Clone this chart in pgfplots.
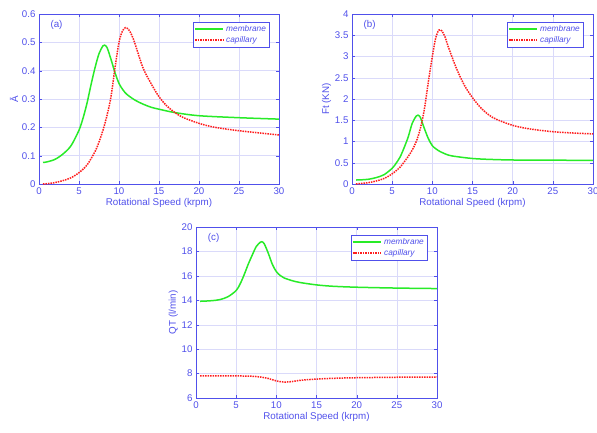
\documentclass[border=0pt]{standalone}
\usepackage{pgfplots}
\pgfplotsset{compat=1.18}
\usepackage{fontspec}
\setmainfont{Liberation Sans}
\definecolor{axblue}{RGB}{80,80,235}
\definecolor{gridblue}{RGB}{218,218,250}
\definecolor{mgreen}{RGB}{40,235,40}
\definecolor{cred}{RGB}{255,30,30}
\pgfplotsset{
  myax/.style={
    scale only axis,
    xmin=0, xmax=30, xtick={0,5,...,30},
    axis line style={axblue},
    tick style={axblue},
    tick align=inside,
    major tick length=3pt,
    xmajorgrids, ymajorgrids,
    grid style={gridblue, line width=0.4pt},
    ticklabel style={font=\fontsize{9.7}{10}\selectfont, text=axblue},
    label style={font=\fontsize{9.8}{11}\selectfont, text=axblue},
    /pgf/number format/assume math mode=true,
    xlabel={Rotational Speed (krpm)},
    xlabel style={yshift=3pt},
    ylabel style={yshift=-3pt},
    legend style={at={(0.96,0.955)}, anchor=north east, draw=axblue, fill=white,
      font=\fontsize{8.3}{9.5}\selectfont\itshape, text=axblue,
      inner sep=1.3pt, row sep=-0.5pt, cells={anchor=west}},
    legend image code/.code={\draw[##1] plot coordinates {(0cm,0cm) (1cm,0cm)};},
    every axis plot/.append style={line join=round},
  },
  mem/.style={mgreen, line width=1.5pt, smooth},
  cap/.style={cred, line width=1.5pt, densely dotted, smooth},
}
\begin{document}
\begin{tikzpicture}
\useasboundingbox (0pt,0pt) rectangle (597pt,432pt);
% (a)
\begin{axis}[myax, at={(39pt,248pt)}, anchor=south west, width=240pt, height=170pt,
  ymin=0, ymax=0.6, ytick={0,0.1,...,0.6},
  yticklabel style={/pgf/number format/fixed},
  ylabel={Ā}]
\addplot[mem] coordinates {(0.5,0.076)(1,0.078)(2,0.087)(3,0.106)(4,0.135)(5,0.19)(5.5,0.232)(6,0.285)(6.5,0.35)(7,0.41)(7.5,0.46)(8,0.488)(8.2,0.49)(8.5,0.482)(9,0.44)(9.5,0.393)(10,0.355)(10.5,0.332)(11,0.316)(12,0.296)(13,0.282)(14,0.271)(15,0.264)(17,0.252)(20,0.241)(25,0.234)(30,0.229)};
\addplot[cap] coordinates {(0.5,0.0)(1,0.001)(2,0.005)(3,0.012)(4,0.022)(5,0.04)(6,0.067)(7,0.114)(7.5,0.148)(8,0.19)(8.5,0.242)(9,0.308)(9.5,0.41)(10,0.5)(10.4,0.538)(10.8,0.552)(11.2,0.545)(11.6,0.525)(12,0.495)(13,0.41)(14,0.355)(15,0.308)(16,0.275)(17,0.252)(18,0.235)(20,0.214)(22,0.2)(25,0.188)(28,0.179)(30,0.173)};
\legend{membrane, capillary}
\node[font=\fontsize{9.8}{11}\selectfont, text=axblue] at (rel axis cs:0.073,0.935) {(a)};
\end{axis}
% (b)
\begin{axis}[myax, at={(352pt,248pt)}, anchor=south west, width=241pt, height=170pt,
  ymin=0, ymax=4, ytick={0,0.5,...,4},
  ylabel={Ft (KN)}]
\addplot[mem] coordinates {(0.5,0.094)(1,0.097)(2,0.11)(3,0.15)(4,0.22)(5,0.37)(5.5,0.49)(6,0.64)(6.5,0.86)(7,1.11)(7.5,1.43)(8,1.6)(8.2,1.62)(8.5,1.57)(9,1.31)(9.5,1.07)(10,0.9)(10.5,0.82)(11,0.76)(12,0.68)(13,0.645)(15,0.6)(17,0.58)(20,0.565)(25,0.56)(30,0.557)};
\addplot[cap] coordinates {(0.5,0.0)(1,0.01)(2,0.03)(3,0.07)(4,0.13)(5,0.24)(6,0.4)(7,0.65)(7.5,0.8)(8,1.0)(8.5,1.3)(9,1.75)(9.5,2.4)(10,3.0)(10.4,3.42)(10.8,3.62)(11.2,3.6)(11.6,3.45)(12,3.22)(13,2.72)(14,2.32)(15,2.03)(16,1.8)(17,1.63)(18,1.52)(20,1.38)(22,1.3)(25,1.23)(28,1.195)(30,1.18)};
\legend{membrane, capillary}
\node[font=\fontsize{9.8}{11}\selectfont, text=axblue] at (rel axis cs:0.073,0.935) {(b)};
\end{axis}
% (c)
\begin{axis}[myax, at={(196pt,34pt)}, anchor=south west, width=241pt, height=171pt,
  ymin=6, ymax=20, ytick={6,8,...,20},
  ylabel={QT (l/min)}]
\addplot[mem] coordinates {(0.5,13.92)(1,13.93)(2,13.97)(3,14.06)(4,14.3)(5,14.8)(5.5,15.35)(6,16.1)(6.5,16.95)(7,17.7)(7.5,18.4)(8,18.75)(8.2,18.8)(8.5,18.62)(9,17.85)(9.5,16.95)(10,16.35)(10.5,16.02)(11,15.82)(12,15.6)(13,15.45)(15,15.26)(17,15.15)(20,15.07)(25,15.0)(30,14.96)};
\addplot[cap] coordinates {(0.5,7.82)(3,7.82)(5,7.81)(7,7.78)(8,7.72)(9,7.6)(10,7.4)(11,7.3)(12,7.35)(13,7.45)(15,7.55)(17,7.61)(20,7.66)(25,7.7)(30,7.72)};
\legend{membrane, capillary}
\node[font=\fontsize{9.8}{11}\selectfont, text=axblue] at (rel axis cs:0.073,0.935) {(c)};
\end{axis}
\end{tikzpicture}
\end{document}
